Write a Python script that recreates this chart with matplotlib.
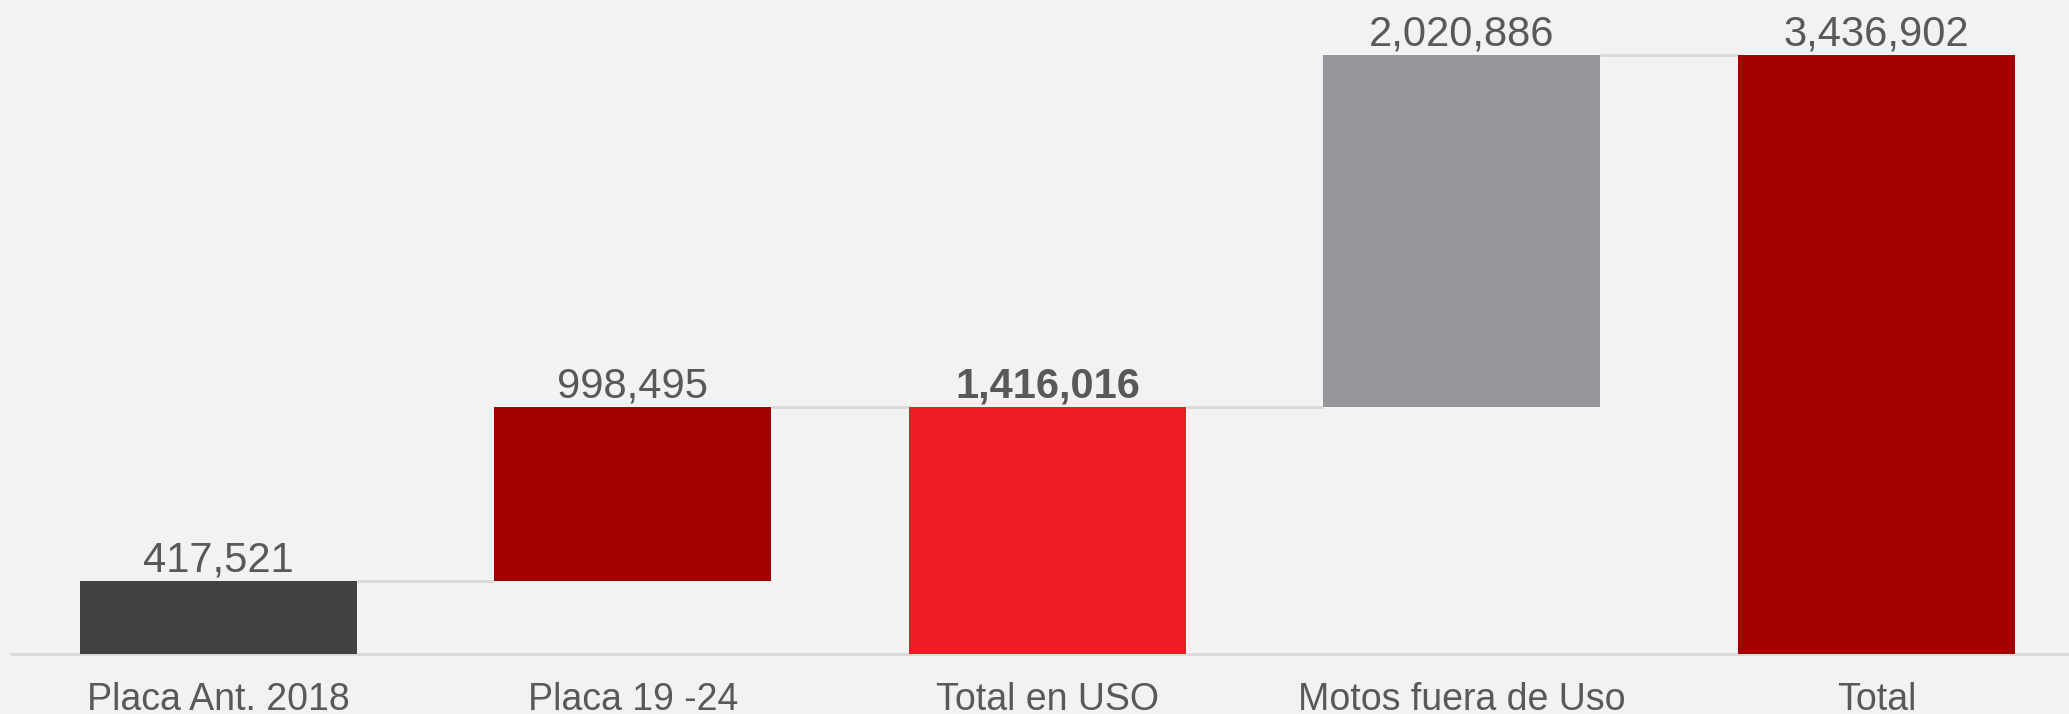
import numpy as np
import matplotlib
matplotlib.use("Agg")
import matplotlib.pyplot as plt

# waterfall data
categories = ["Placa Ant. 2018", "Placa 19 -24", "Total en USO", "Motos fuera de Uso", "Total"]
values     = [417521, 998495, 1416016, 2020886, 3436902]
is_total   = [False, False, True, False, True]
colors     = ["#414143", "#A30000", "#ED1C24", "#96979B", "#A30000"]
bold_label = [False, False, True, False, False]

BG = "#F2F2F2"
TXT = "#595959"
GRID = "#D9D9D9"

plt.rcParams["font.family"] = ["Liberation Sans", "DejaVu Sans"]

# compute bottoms
bottoms, tops = [], []
running = 0
for v, tot in zip(values, is_total):
    if tot:
        b = 0
        running = v
    else:
        b = running
        running += v
    bottoms.append(b)
    tops.append(b + v)

fig = plt.figure(figsize=(20.69, 7.14), dpi=100, facecolor=BG)
ax = fig.add_axes([11 / 2069, 60 / 714, 1 - 11 / 2069, 654 / 714])
ax.set_facecolor(BG)

x = np.arange(len(categories))
w = 0.668
ax.bar(x, values, w, bottom=bottoms, color=colors, zorder=3)

# connectors
for i in range(len(values) - 1):
    level = tops[i]
    ax.plot([x[i] + w / 2, x[i + 1] - w / 2], [level, level],
            color=GRID, linewidth=2, zorder=2, solid_capstyle="butt")

# value labels
for i, v in enumerate(values):
    ax.text(x[i], tops[i] + 57000, f"{v:,}", ha="center", va="baseline",
            fontsize=30, color=TXT, fontweight="bold" if bold_label[i] else "normal")

ax.set_xlim(-0.5, (2069 - 218.5) / 414.5)
ax.set_ylim(0, 3436902 * 654 / 599)
ax.set_xticks(x)
ax.set_xticklabels(categories, fontsize=27, color=TXT)
ax.tick_params(axis="x", length=0, pad=20)
ax.set_yticks([])
for s in ["top", "right", "left"]:
    ax.spines[s].set_visible(False)
ax.spines["bottom"].set_color(GRID)
ax.spines["bottom"].set_linewidth(2)

fig.savefig("out.png", dpi=100, facecolor=BG)
